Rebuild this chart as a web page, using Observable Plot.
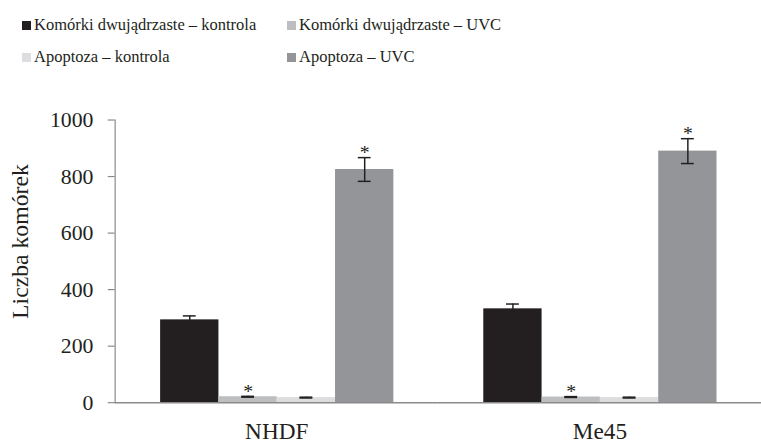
<!DOCTYPE html>
<html><head><meta charset="utf-8">
<script src="https://cdn.jsdelivr.net/npm/d3@7"></script>
<script src="https://cdn.jsdelivr.net/npm/@observablehq/plot@0.6"></script>
<style>
html,body{margin:0;padding:0;background:#fff;overflow:hidden;width:761px;height:444px}
#legend{position:relative;height:80px;font-family:'Liberation Serif',serif;font-size:16.5px;color:#231f20}
.item{position:absolute;display:flex;align-items:center;white-space:nowrap;line-height:20px;height:20px}
.sw{width:9px;height:9px;margin-right:3px;display:inline-block}
#chart svg{display:block}
</style></head><body>
<div id="legend"></div><div id="chart"></div>
<script>
const cells = ["NHDF", "Me45"];
const series = ["Komórki dwujądrzaste – kontrola", "Komórki dwujądrzaste – UVC", "Apoptoza – kontrola", "Apoptoza – UVC"];
const colors = ["#231f20", "#bcbec0", "#dcddde", "#939598"];
const meansNHDF = [293, 21, 18, 825];
const errNHDF = [14, 1.5, 1.5, 42];
const meansMe45 = [332, 20, 18, 890];
const errMe45 = [17, 1.5, 1.5, 44];
const starsNHDF = [false, true, false, true];
const starsMe45 = [false, true, false, true];
const yTicks = [0, 200, 400, 600, 800, 1000];
const yLabel = "Liczba komórek";

const axisGray = "#8a8a8a";
const dark = "#231f20";
const serifFont = "'Liberation Serif', serif";

// legend
const legend = document.getElementById("legend");
const legendPos = [[22, 15], [287, 15], [22, 47], [287, 47]];
series.forEach((name, k) => {
  const el = document.createElement("div");
  el.className = "item";
  el.style.left = legendPos[k][0] + "px";
  el.style.top = legendPos[k][1] + "px";
  const sw = document.createElement("span");
  sw.className = "sw";
  sw.style.background = colors[k];
  el.appendChild(sw);
  el.appendChild(document.createTextNode(name));
  legend.appendChild(el);
});

const data = [];
const src = {NHDF: [meansNHDF, errNHDF, starsNHDF], Me45: [meansMe45, errMe45, starsMe45]};
cells.forEach(c => {
  const [m, e, s] = src[c];
  series.forEach((name, i) => {
    data.push({cell: c, series: name, mean: m[i], lo: m[i] - e[i], hi: m[i] + e[i], star: s[i]});
  });
});

const chart = Plot.plot({
  width: 770, height: 364,
  marginLeft: 116, marginRight: 0, marginTop: 40, marginBottom: 38,
  style: {fontFamily: serifFont, fontSize: "22px", color: dark, background: "#fff", overflow: "visible"},
  fx: {domain: cells, padding: 0, label: null},
  x: {domain: series, paddingInner: 0, paddingOuter: 0.748, axis: null},
  y: {domain: [0, 1000], label: null},
  color: {domain: series, range: colors},
  marks: [
    Plot.barY(data, {fx: "cell", x: "series", y: "mean", fill: "series"}),
    Plot.ruleY([0], {stroke: axisGray, strokeWidth: 1.5}),
    Plot.frame({anchor: "left", facetAnchor: "left", stroke: axisGray, strokeWidth: 1.2}),
    Plot.axisY({ticks: yTicks, tickFormat: d => String(d), tickSize: 7, tickPadding: 15, stroke: axisGray, fill: dark, label: null, fontSize: 22, strokeWidth: 1.2}),
    Plot.axisFx({anchor: "bottom", tickSize: 0, tickPadding: 20, label: null, fontSize: 23.5, fill: dark}),
    Plot.ruleX(data, {fx: "cell", x: "series", y1: "lo", y2: "hi", stroke: dark, strokeWidth: 1.5}),
    Plot.tickY(data, {fx: "cell", x: "series", y: "hi", insetLeft: 23, insetRight: 23, stroke: dark, strokeWidth: 1.5}),
    Plot.tickY(data, {fx: "cell", x: "series", y: "lo", insetLeft: 23, insetRight: 23, stroke: dark, strokeWidth: 1.5}),
    Plot.text(data.filter(d => d.star), {fx: "cell", x: "series", y: "hi", text: () => "*", dy: -5, fontSize: 20, fill: dark}),
    Plot.text([yLabel], {frameAnchor: "left", facetAnchor: "left", text: d => d, rotate: -90, textAnchor: "middle", dx: -96, dy: -20, fontSize: 24, fill: dark})
  ]
});
document.getElementById("chart").appendChild(chart);
</script>
</body></html>
